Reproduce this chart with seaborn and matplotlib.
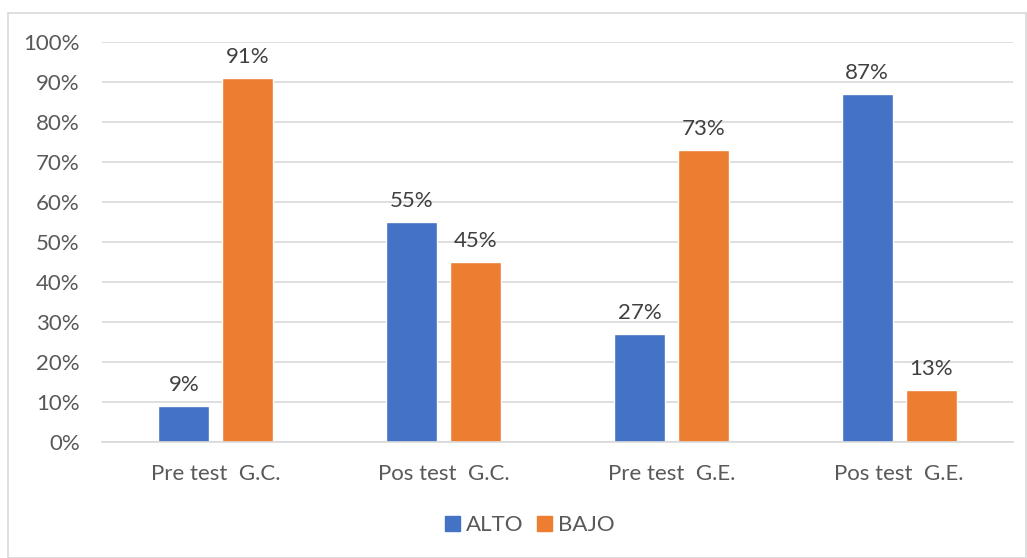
import matplotlib
matplotlib.use("Agg")
import matplotlib.pyplot as plt
from matplotlib.patches import Rectangle
from matplotlib.ticker import PercentFormatter, MultipleLocator
import seaborn as sns
import pandas as pd

categories = ["Pre test  G.C.", "Pos test  G.C.", "Pre test  G.E.", "Pos test  G.E."]
alto = [9, 55, 27, 87]
bajo = [91, 45, 73, 13]
series_names = ["ALTO", "BAJO"]
colors = ["#4472C4", "#ED7D31"]

df = pd.DataFrame({
    "grupo": categories * 2,
    "nivel": [series_names[0]] * 4 + [series_names[1]] * 4,
    "valor": alto + bajo,
})

sns.set_theme(style="white")
plt.rcParams["font.family"] = ["Lato", "DejaVu Sans"]
text_color = "#595959"
fs = 16

fig = plt.figure(figsize=(10.27, 5.58), dpi=100)
ax = fig.add_axes([102 / 1027, 1 - 442 / 558, 911 / 1027, 400 / 558])

sns.barplot(data=df, x="grupo", y="valor", hue="nivel", order=categories,
            hue_order=series_names, palette=colors, width=0.56, gap=0.2,
            saturation=1, ax=ax, legend=False)

for container in ax.containers:
    ax.bar_label(container, labels=[f"{v:.0f}%" for v in container.datavalues],
                 padding=8, fontsize=fs, color="#404040")

ax.set_ylim(0, 100)
ax.set_xlim(-0.5, 3.5)
ax.yaxis.set_major_locator(MultipleLocator(10))
ax.yaxis.set_major_formatter(PercentFormatter(decimals=0))
ax.grid(axis="y", color="#D9D9D9", linewidth=1.2)
ax.set_axisbelow(True)
for side in ["top", "right", "left"]:
    ax.spines[side].set_visible(False)
ax.spines["bottom"].set_color("#D9D9D9")
ax.spines["bottom"].set_linewidth(1.2)
ax.tick_params(axis="y", labelsize=fs, labelcolor=text_color, length=0, pad=16)
ax.tick_params(axis="x", labelsize=fs, labelcolor=text_color, length=0, pad=16)
ax.set_xlabel("")
ax.set_ylabel("")

handles = [Rectangle((0, 0), 1, 1, color=c) for c in colors]
fig.legend(handles, series_names, loc="center", bbox_to_anchor=(530 / 1027, 1 - 525 / 558),
           ncol=2, frameon=False, fontsize=fs, labelcolor=text_color,
           handlelength=0.65, handleheight=0.65, handletextpad=0.3, columnspacing=0.6)

fig.patches.append(Rectangle((8 / 1027, 0), 1 - 8 / 1027 - 0.001, 1 - 13 / 558,
                             transform=fig.transFigure, fill=False,
                             edgecolor="#D9D9D9", linewidth=1.2))

fig.savefig("out.png", dpi=100, facecolor="white")
